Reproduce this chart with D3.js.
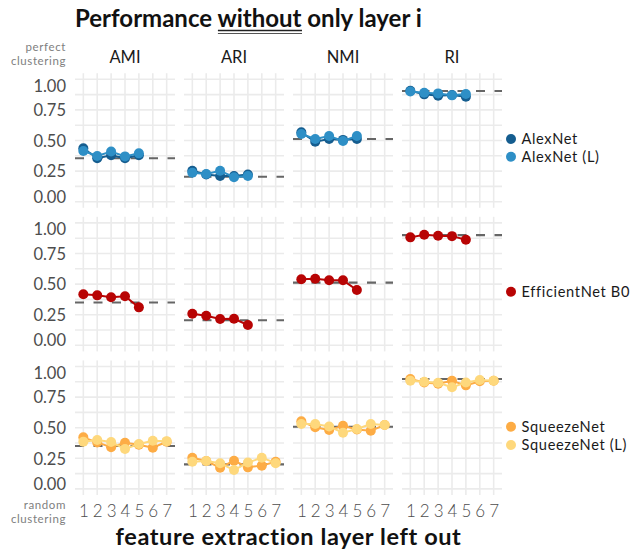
<!DOCTYPE html>
<html>
<head>
<meta charset="utf-8">
<script src="https://cdn.jsdelivr.net/npm/d3@7"></script>
<style>
  html, body { margin: 0; padding: 0; background: #fff; }
  svg { display: block; font-family: Lato, "Open Sans", sans-serif; }
</style>
</head>
<body>
<svg id="chart" width="634" height="550"></svg>
<script>
// ---------------- data ----------------
const layers = [1, 2, 3, 4, 5, 6, 7];
const metrics = ["AMI", "ARI", "NMI", "RI"];
const yTicks = [0, 0.25, 0.5, 0.75, 1];
const yTickLabels = ["0.00", "0.25", "0.50", "0.75", "1.00"];
const networks = ["AlexNet", "AlexNet (L)", "EfficientNet B0", "SqueezeNet", "SqueezeNet (L)"];
const networkColors = ["#155d8f", "#2e8fc6", "#b80404", "#fdac45", "#fed87c"];
const networkRow = [0, 0, 1, 2, 2];

// values per metric (AMI, ARI, NMI, RI), one entry per left-out layer
const alexnet = [
  [0.436, 0.355, 0.380, 0.355, 0.380],
  [0.253, 0.222, 0.210, 0.210, 0.222],
  [0.567, 0.490, 0.512, 0.505, 0.512],
  [0.907, 0.877, 0.866, 0.872, 0.858]
];
const alexnetL = [
  [0.414, 0.373, 0.410, 0.370, 0.395],
  [0.237, 0.226, 0.253, 0.200, 0.210],
  [0.553, 0.512, 0.537, 0.496, 0.537],
  [0.900, 0.890, 0.885, 0.869, 0.880]
];
const efficientnet = [
  [0.417, 0.408, 0.392, 0.400, 0.310],
  [0.258, 0.242, 0.215, 0.217, 0.166],
  [0.539, 0.543, 0.531, 0.531, 0.452],
  [0.882, 0.904, 0.895, 0.892, 0.863]
];
const squeezenet = [
  [0.421, 0.380, 0.340, 0.377, 0.360, 0.337, 0.385],
  [0.255, 0.228, 0.173, 0.230, 0.176, 0.190, 0.222],
  [0.552, 0.503, 0.481, 0.515, 0.485, 0.476, 0.522],
  [0.898, 0.870, 0.860, 0.884, 0.846, 0.880, 0.884]
];
const squeezenetL = [
  [0.386, 0.400, 0.383, 0.326, 0.367, 0.394, 0.390],
  [0.222, 0.228, 0.210, 0.154, 0.215, 0.255, 0.210],
  [0.530, 0.530, 0.510, 0.459, 0.489, 0.530, 0.522],
  [0.884, 0.876, 0.868, 0.830, 0.870, 0.890, 0.884]
];
const networkValues = [alexnet, alexnetL, efficientnet, squeezenet, squeezenetL];

// performance of the full model (dashed reference), per row and metric
const baselineAlexNet = [0.355, 0.204, 0.512, 0.904];
const baselineEfficientNet = [0.350, 0.204, 0.512, 0.900];
const baselineSqueezeNet = [0.351, 0.200, 0.508, 0.898];
const baselines = [baselineAlexNet, baselineEfficientNet, baselineSqueezeNet];

// ---------------- layout ----------------
const svg = d3.select("#chart");
const panelLeft = 75, panelTop = 73.2;
const panelW = 100, panelH = 134.6, colGap = 9, rowGap = 9;
const textGrey = "#4d4d4d";

const x = d3.scalePoint().domain(layers).range([0, panelW]).padding(0.6);
const y = d3.scaleLinear().domain([-0.05, 1.05]).range([panelH, 0]);
const minorY = d3.range(0.125, 1, 0.25);

for (let r = 0; r < 3; r++) {
  for (let c = 0; c < 4; c++) {
    const g = svg.append("g")
      .attr("transform", `translate(${panelLeft + c * (panelW + colGap)},${panelTop + r * (panelH + rowGap)})`);
    // grid
    g.selectAll("line.vg").data(layers).join("line")
      .attr("x1", d => x(d)).attr("x2", d => x(d))
      .attr("y1", 0).attr("y2", panelH)
      .attr("stroke", "#ebebeb").attr("stroke-width", 1.6);
    g.selectAll("line.hg").data(yTicks.concat(minorY)).join("line")
      .attr("x1", 0).attr("x2", panelW)
      .attr("y1", d => y(d)).attr("y2", d => y(d))
      .attr("stroke", "#ebebeb").attr("stroke-width", 1.6);
    // dashed baseline
    g.append("line")
      .attr("x1", 0).attr("x2", panelW)
      .attr("y1", y(baselines[r][c])).attr("y2", y(baselines[r][c]))
      .attr("stroke", "#666").attr("stroke-width", 2.1)
      .attr("stroke-dasharray", "9,9.5");
    // series
    networks.forEach((name, i) => {
      if (networkRow[i] !== r) return;
      const vals = networkValues[i][c].map((v, k) => ({ layer: layers[k], v }));
      g.append("path").datum(vals)
        .attr("fill", "none").attr("stroke", networkColors[i]).attr("stroke-width", 2)
        .attr("d", d3.line().x(d => x(d.layer)).y(d => y(d.v)));
      g.selectAll(null).data(vals).join("circle")
        .attr("cx", d => x(d.layer)).attr("cy", d => y(d.v)).attr("r", 5)
        .attr("fill", networkColors[i]);
    });
    // y axis on first column
    if (c === 0) {
      const ay = g.append("g").call(d3.axisLeft(y).tickValues(yTicks)
        .tickFormat((d, i) => yTickLabels[i]).tickSize(0).tickPadding(9));
      ay.select(".domain").remove();
      ay.selectAll("text").attr("font-size", 16.5).attr("fill", textGrey)
        .attr("font-family", "Lato, sans-serif")
        .attr("dy", d => d === 1 ? "0.72em" : d === 0 ? "0.02em" : "0.35em");
    }
    // x axis on last row
    if (r === 2) {
      const ax = g.append("g").attr("transform", `translate(0,${panelH})`)
        .call(d3.axisBottom(x).tickSize(0).tickPadding(16));
      ax.select(".domain").remove();
      ax.selectAll("text").attr("font-size", 17).attr("fill", textGrey)
        .attr("font-family", "Lato, sans-serif").attr("font-weight", 300).attr("dy", "0.35em");
    }
    // strips
    if (r === 0) {
      svg.append("text")
        .attr("x", panelLeft + c * (panelW + colGap) + panelW / 2).attr("y", 63)
        .attr("text-anchor", "middle").attr("font-size", 16.5).attr("fill", "#1a1a1a")
        .text(metrics[c]);
    }
  }
}

// side annotations
const annot = (lines, y0, step) => {
  lines.forEach((t, i) => svg.append("text")
    .attr("x", 66).attr("y", y0 + i * step).attr("text-anchor", "end")
    .attr("font-size", 11.5).attr("letter-spacing", 0.6)
    .attr("fill", "#808080").text(t));
};
annot(["perfect", "clustering"], 51, 14);
annot(["random", "clustering"], 508.5, 14);

// title
const title = svg.append("text").attr("x", 75).attr("y", 27)
  .attr("font-size", 24).attr("font-weight", 700).attr("fill", "#111");
title.append("tspan").text("Performance ");
const wt = title.append("tspan").text("without");
title.append("tspan").text(" only layer i");
const pre = svg.append("text").attr("font-size", 24).attr("font-weight", 700)
  .attr("font-family", "Lato, sans-serif").text("Performance\u00a0");
const preW = pre.node().getComputedTextLength(); pre.remove();
const wW = wt.node().getComputedTextLength();
svg.append("line").attr("x1", 75 + preW).attr("x2", 75 + preW + wW)
  .attr("y1", 30.5).attr("y2", 30.5).attr("stroke", "#222").attr("stroke-width", 1.4);
svg.append("line").attr("x1", 75 + preW).attr("x2", 75 + preW + wW)
  .attr("y1", 33.5).attr("y2", 33.5).attr("stroke", "#555").attr("stroke-width", 1.1);

// x axis title
svg.append("text").attr("x", panelLeft + (4 * panelW + 3 * colGap) / 2).attr("y", 545)
  .attr("text-anchor", "middle").attr("font-size", 23.5).attr("font-weight", 700)
  .attr("letter-spacing", 0.6)
  .attr("fill", "#111").text("feature extraction layer left out");

// legends
const legendY = [139, 156.7, 291.7, 426.7, 445];
networks.forEach((name, i) => {
  svg.append("circle").attr("cx", 511).attr("cy", legendY[i]).attr("r", 5)
    .attr("fill", networkColors[i]);
  svg.append("text").attr("x", 521.5).attr("y", legendY[i]).attr("dy", "0.35em")
    .attr("font-size", 14.6).attr("letter-spacing", 0.65)
    .attr("fill", "#1a1a1a").text(name);
});
</script>
</body>
</html>
